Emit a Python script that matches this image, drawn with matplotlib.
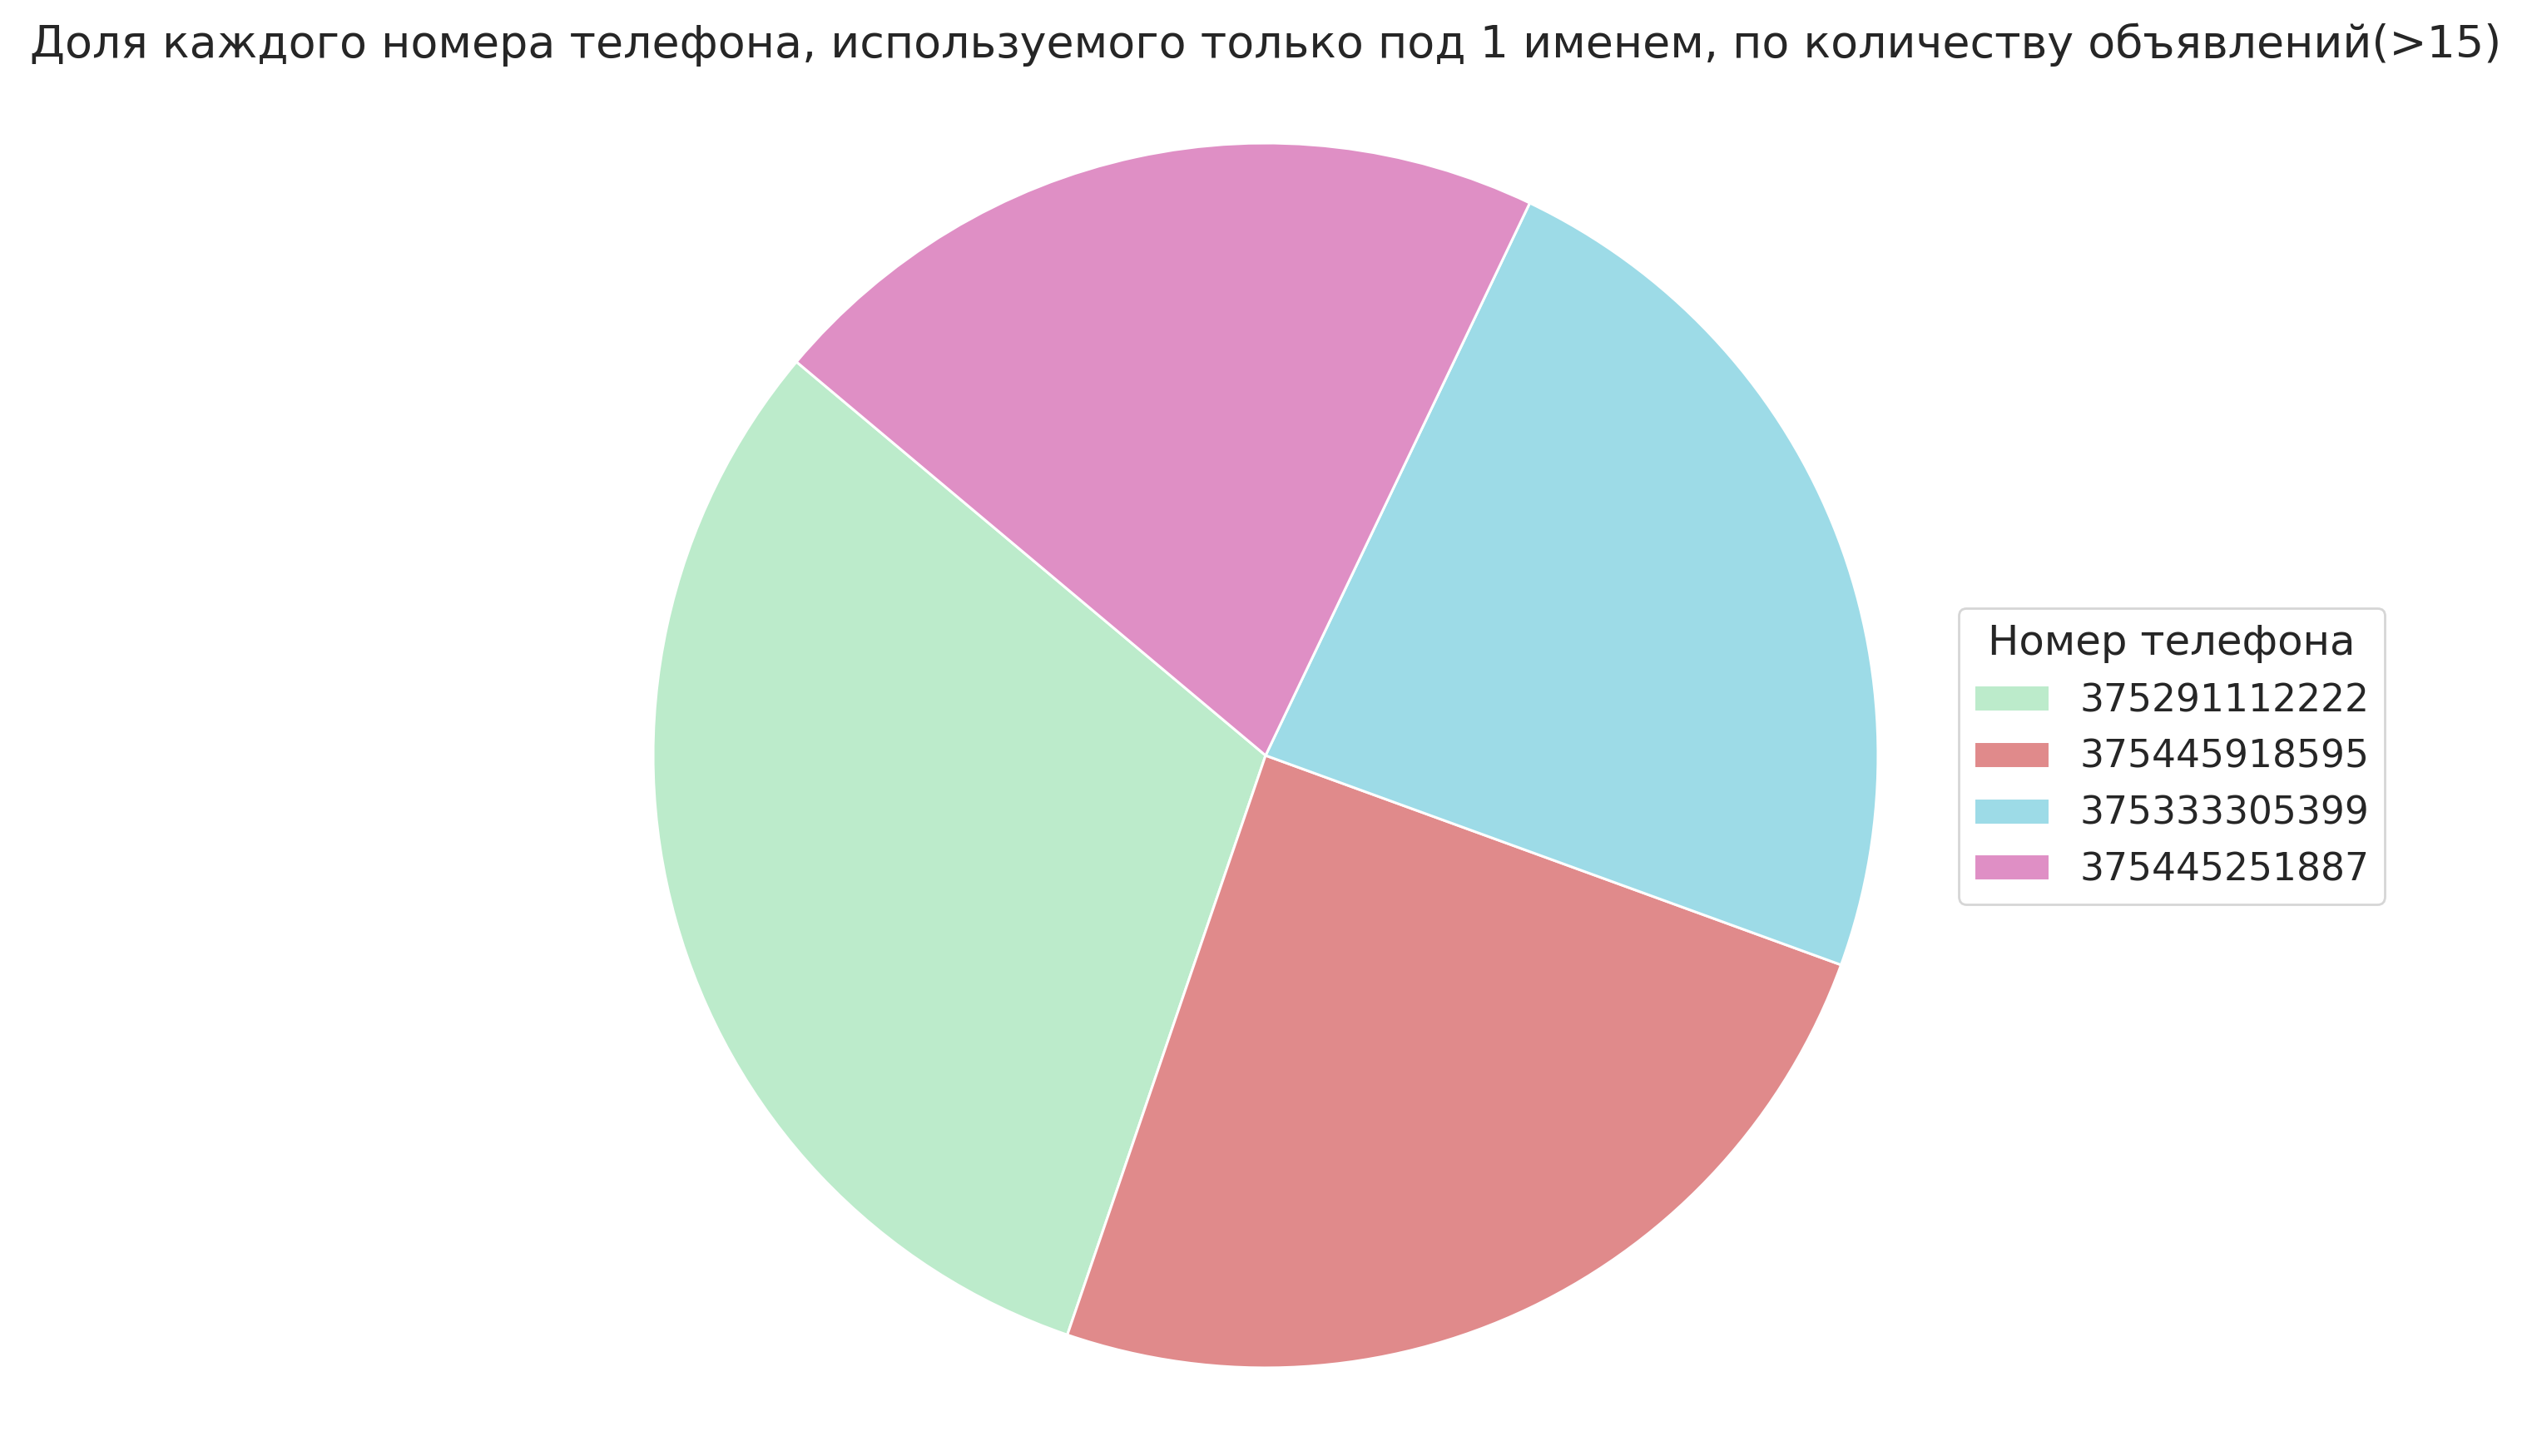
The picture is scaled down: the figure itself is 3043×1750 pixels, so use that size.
import matplotlib
matplotlib.use("Agg")
import matplotlib.pyplot as plt

phones = ["375291112222", "375445918595", "375333305399", "375445251887"]
counts = [25, 20, 19, 17]
colors = ["#BCEBCB", "#E08A8B", "#9DDBE7", "#DF8FC5"]
title = "Доля каждого номера телефона, используемого только под 1 именем, по количеству объявлений(>15)"
legend_title = "Номер телефона"

plt.rcParams['font.family'] = ['DejaVu Sans']
plt.rcParams['text.color'] = '#262626'

W, H, DPI = 3043, 1750, 200
fig = plt.figure(figsize=(W / DPI, H / DPI), dpi=DPI)
cx, cy, r = 1521, 908, 736
ax = fig.add_axes([(cx - r) / W, (H - cy - r) / H, 2 * r / W, 2 * r / H])
wedges, _ = ax.pie(counts, colors=colors, startangle=140, counterclock=True,
                   wedgeprops=dict(edgecolor='white', linewidth=1.1))
ax.set_xlim(-1, 1)
ax.set_ylim(-1, 1)
ax.set_aspect('equal')
ax.axis('off')

fig.text(cx / W, 1 - 54 / H, title, ha='center', va='center', fontsize=19.4, color='#262626')

leg = fig.legend(wedges, phones, title=legend_title, loc='upper left',
                 bbox_to_anchor=(2354 / W, 1 - 731 / H), fontsize=16.4, title_fontsize=17.9,
                 frameon=True, fancybox=True, edgecolor='#cccccc', borderaxespad=0)
for t in leg.get_texts():
    t.set_color('#262626')
leg.get_title().set_color('#262626')

fig.savefig("out.png", dpi=DPI, facecolor='white')
